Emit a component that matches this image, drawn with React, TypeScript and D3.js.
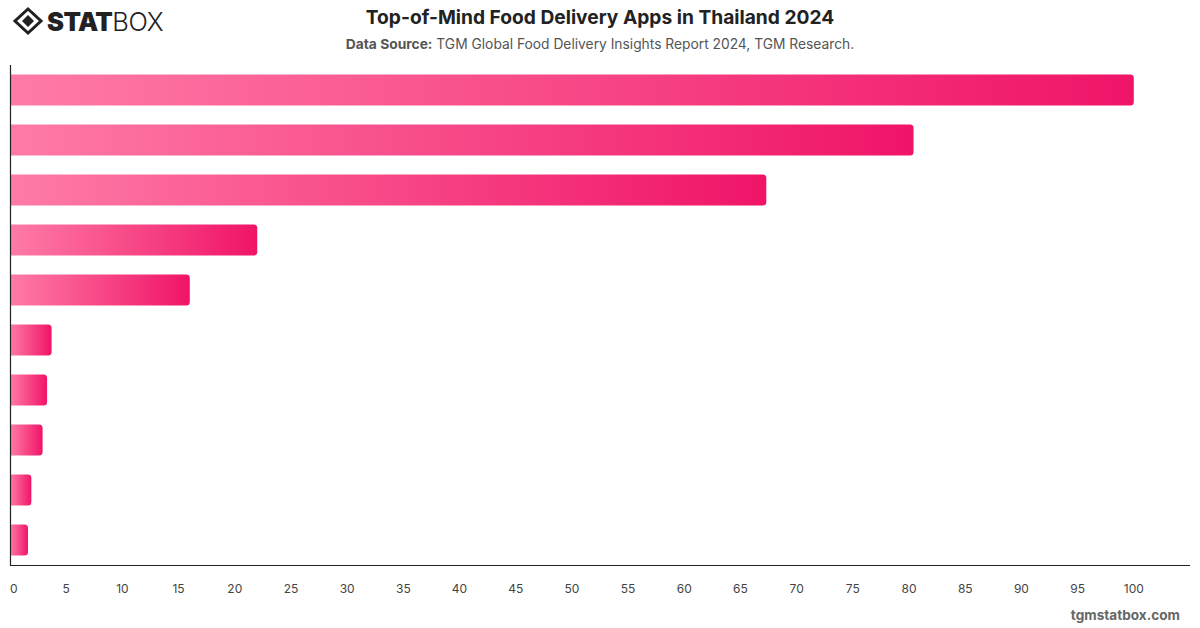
import React from "react";
import * as d3 from "d3";

const categories = ["App 1", "App 2", "App 3", "App 4", "App 5", "App 6", "App 7", "App 8", "App 9", "App 10"];
const values = [100, 80.4, 67.3, 22.0, 16.0, 3.7, 3.3, 2.9, 1.9, 1.6];
const xTicks = [0, 5, 10, 15, 20, 25, 30, 35, 40, 45, 50, 55, 60, 65, 70, 75, 80, 85, 90, 95, 100];

const W = 1200;
const H = 628;
const left = 10;
const right = 1190;
const top = 65;
const bottom = 565;

function barPath(x0: number, y: number, w: number, h: number, r: number) {
  const rr = Math.min(r, w / 2, h / 2);
  const x1 = x0 + w;
  return `M${x0},${y}H${x1 - rr}Q${x1},${y} ${x1},${y + rr}V${y + h - rr}Q${x1},${y + h} ${x1 - rr},${y + h}H${x0}Z`;
}

export default function App() {
  const x = d3.scaleLinear().domain([0, 105]).range([left, right]);
  const y = d3.scaleBand<string>().domain(categories).range([top, bottom]).paddingInner(0.38).paddingOuter(0.19);
  const bh = y.bandwidth();
  const font = "Inter, 'Open Sans', Roboto, sans-serif";

  return (
    <svg width={W} height={H} style={{ display: "block", position: "absolute", left: 0, top: 0 }} fontFamily={font}>
      <defs>
        {values.map((v, i) => (
          <linearGradient key={i} id={`g${i}`} gradientUnits="userSpaceOnUse" x1={x(0)} x2={x(v)} y1={0} y2={0}>
            <stop offset="0" stopColor="#ff7ba7" />
            <stop offset="1" stopColor="#f01468" />
          </linearGradient>
        ))}
      </defs>
      <rect width={W} height={H} fill="#fff" />

      {/* Logo */}
      <g transform="translate(28,21)">
        <path d="M0,-12 L13,0 L0,12 L-13,0 Z" fill="none" stroke="#222" strokeWidth={3} />
        <path d="M0,-6 L6,0 L0,6 L-6,0 Z" fill="#222" />
        <path d="M-9,-4 L-4,-9 M4,-9 L9,-4 M9,4 L4,9 M-4,9 L-9,4" stroke="#222" strokeWidth={1.5} />
      </g>
      <text x={47} y={31} fontFamily="Inter, sans-serif" fontWeight={900} fontSize={25.5} fill="#222" letterSpacing={-0.6}>
        STAT
        <tspan fontWeight={300} letterSpacing={-0.3}>BOX</tspan>
      </text>

      {/* Title */}
      <text x={600} y={24} textAnchor="middle" fontWeight={700} fontSize={19.2} fill="#222">
        Top-of-Mind Food Delivery Apps in Thailand 2024
      </text>
      <text x={600} y={49} textAnchor="middle" fontSize={13.8} fill="#555">
        <tspan fontWeight={700}>Data Source:</tspan> TGM Global Food Delivery Insights Report 2024, TGM Research.
      </text>

      {/* Bars */}
      {values.map((v, i) => (
        <path key={i} d={barPath(x(0), y(categories[i])!, x(v) - x(0), bh, 3.5)} fill={`url(#g${i})`} />
      ))}

      {/* Axes */}
      <line x1={left + 0.5} x2={left + 0.5} y1={top} y2={bottom} stroke="#222" strokeWidth={1.2} />
      <line x1={left} x2={right} y1={bottom + 0.5} y2={bottom + 0.5} stroke="#222" strokeWidth={1.2} />
      {xTicks.map((t) => (
        <text
          key={t}
          x={x(t)}
          y={593}
          textAnchor={t === 0 ? "start" : "middle"}
          fontSize={12}
          fill="#444"
        >
          {t}
        </text>
      ))}

      <text x={1180} y={620} textAnchor="end" fontWeight={700} fontSize={13.6} fill="#666">
        tgmstatbox.com
      </text>
    </svg>
  );
}
